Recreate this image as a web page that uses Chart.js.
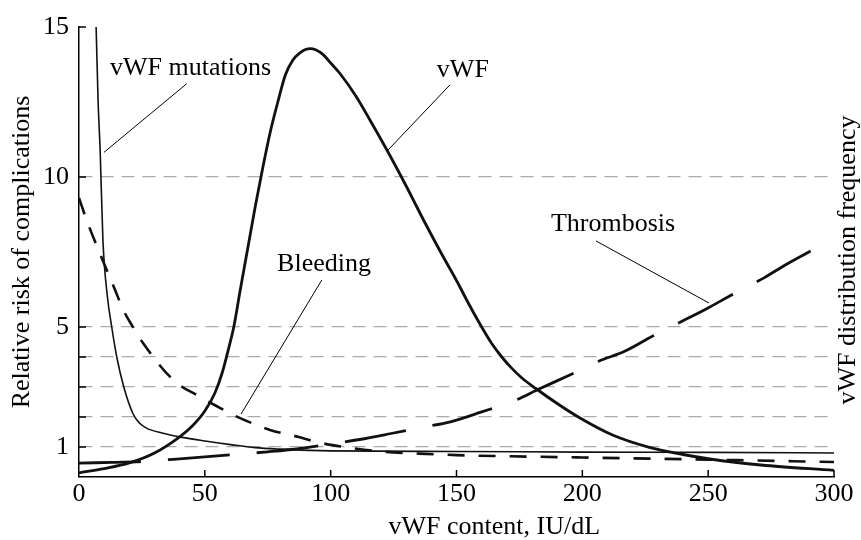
<!DOCTYPE html>
<html>
<head>
<meta charset="utf-8">
<script src="https://cdn.jsdelivr.net/npm/chart.js@4.4.0/dist/chart.umd.min.js"></script>
<style>
body{margin:0;background:#fff}
#wrap{width:861px;height:540px;position:relative}
</style>
</head>
<body>
<div id="wrap"><canvas id="c"></canvas></div>
<script>
// curve readings (x = vWF content IU/dL, y = relative risk)
const mutX = [6.8, 7.6, 8.4, 9.5, 11.3, 13, 15, 17.8, 21.5, 24, 27, 33, 41, 50, 61, 70, 80, 100, 150, 200, 250, 300];
const mutY = [15, 12.5, 10.9, 7.9, 6.0, 5, 4, 3, 2.1, 1.8, 1.62, 1.47, 1.32, 1.2, 1.07, 0.98, 0.93, 0.87, 0.85, 0.83, 0.82, 0.8];

const vwfX = [0, 10, 20, 30, 40, 45, 50, 54, 57, 59.5, 61.5, 64, 67, 70, 73, 76, 79, 82, 85, 88, 90, 92, 94, 97, 100, 103.7, 110, 115.6, 123, 130, 137, 144, 150, 155, 160, 164, 168, 172, 176, 181.5, 190, 198.4, 212, 227, 240, 250.7, 271, 300];
const vwfY = [0.14, 0.28, 0.47, 0.8, 1.34, 1.7, 2.2, 2.8, 3.5, 4.3, 5.0, 6.2, 7.6, 9.0, 10.3, 11.5, 12.5, 13.4, 13.9, 14.15, 14.25, 14.28, 14.24, 14.08, 13.8, 13.45, 12.7, 11.9, 10.8, 9.7, 8.55, 7.45, 6.55, 5.75, 5.0, 4.45, 4.0, 3.62, 3.3, 2.95, 2.45, 2.0, 1.4, 0.98, 0.75, 0.6, 0.4, 0.22];

const bleedX = [0, 3, 8.3, 14.3, 17.6, 20, 25.5, 37.5, 48, 55, 61.3, 70, 75.9, 87, 93, 100, 107, 120, 135, 150, 200, 250, 300];
const bleedY = [9.3, 8.57, 7.45, 6.24, 5.57, 5.2, 4.46, 3.23, 2.68, 2.35, 2.07, 1.75, 1.57, 1.34, 1.2, 1.07, 0.98, 0.85, 0.78, 0.73, 0.65, 0.58, 0.5];

const thrX = [0, 13, 26, 37.5, 50, 63.3, 75, 88, 100, 111.5, 124, 136.5, 147.6, 160, 172.6, 183, 195, 206.5, 216.8, 228, 239.6, 249.2, 260, 272, 281.5, 290, 300];
const thrY = [0.46, 0.49, 0.52, 0.59, 0.67, 0.76, 0.84, 0.95, 1.1, 1.25, 1.45, 1.66, 1.84, 2.17, 2.53, 2.94, 3.4, 3.86, 4.19, 4.7, 5.19, 5.6, 6.1, 6.63, 7.11, 7.5, 7.95];

// axes
const xTickValues = [0, 50, 100, 150, 200, 250, 300];
const yTickValues = [0, 1, 2, 3, 4, 5, 10, 15];
const yLabelValues = [1, 5, 10, 15];
const yGridValues = [1, 2, 3, 4, 5, 10];

// curve labels, in data units
const labelText = ['vWF mutations', 'vWF', 'Bleeding', 'Thrombosis'];
const labelX = [12.3, 142.2, 78.7, 187.5];
const labelY = [13.63, 13.57, 7.1, 8.43];
const leadFromX = [42.8, 147.4, 96.5, 205.4];
const leadFromY = [13.11, 13.07, 6.57, 7.87];
const leadToX = [9.9, 122.8, 64.4, 250.3];
const leadToY = [10.82, 10.9, 2.1, 5.8];

const FONT = '"Liberation Serif", "Times New Roman", serif';
const pts = (xs, ys) => xs.map((x, i) => ({x: x, y: ys[i]}));

const extras = {
  id: 'extras',
  afterDatasetsDraw(chart) {
    const {ctx, scales: {x, y}} = chart;
    ctx.save();
    // inward tick marks
    ctx.strokeStyle = '#000';
    ctx.lineWidth = 1.5;
    yTickValues.forEach(v => {
      if (v === 0) return;
      const py = y.getPixelForValue(v);
      ctx.beginPath(); ctx.moveTo(x.left, py); ctx.lineTo(x.left + 7, py); ctx.stroke();
    });
    xTickValues.forEach(v => {
      if (v === 0) return;
      const px = x.getPixelForValue(v);
      ctx.beginPath(); ctx.moveTo(px, y.bottom); ctx.lineTo(px, y.bottom - 7); ctx.stroke();
    });
    // leader lines + labels
    ctx.lineWidth = 1;
    labelText.forEach((t, i) => {
      ctx.beginPath();
      ctx.moveTo(x.getPixelForValue(leadFromX[i]), y.getPixelForValue(leadFromY[i]));
      ctx.lineTo(x.getPixelForValue(leadToX[i]), y.getPixelForValue(leadToY[i]));
      ctx.stroke();
    });
    ctx.fillStyle = '#000';
    ctx.font = '26px ' + FONT;
    ctx.textBaseline = 'middle';
    ctx.textAlign = 'left';
    labelText.forEach((t, i) => {
      ctx.fillText(t, x.getPixelForValue(labelX[i]), y.getPixelForValue(labelY[i]));
    });
    // axis titles
    ctx.textAlign = 'center';
    const midY = (y.top + y.bottom) / 2;
    ctx.fillText('vWF content, IU/dL', x.getPixelForValue(165), 527);
    ctx.save();
    ctx.translate(22, midY);
    ctx.rotate(-Math.PI / 2);
    ctx.fillText('Relative risk of complications', 0, 0);
    ctx.restore();
    ctx.save();
    ctx.translate(848, midY + 8);
    ctx.rotate(-Math.PI / 2);
    ctx.fillText('vWF distribution frequency', 0, 0);
    ctx.restore();
    ctx.restore();
  }
};

new Chart(document.getElementById('c'), {
  type: 'scatter',
  data: {
    datasets: [
      {label: 'vWF mutations', data: pts(mutX, mutY), showLine: true, borderColor: '#111', borderWidth: 1.6, pointRadius: 0, cubicInterpolationMode: 'monotone'},
      {label: 'vWF', data: pts(vwfX, vwfY), showLine: true, borderColor: '#111', borderWidth: 2.8, pointRadius: 0, cubicInterpolationMode: 'monotone'},
      {label: 'Bleeding', data: pts(bleedX, bleedY), showLine: true, borderColor: '#111', borderWidth: 2.6, borderDash: [17, 14], pointRadius: 0, cubicInterpolationMode: 'monotone'},
      {label: 'Thrombosis', data: pts(thrX, thrY), showLine: true, borderColor: '#111', borderWidth: 2.8, borderDash: [62, 27], pointRadius: 0, cubicInterpolationMode: 'monotone'}
    ]
  },
  options: {
    responsive: true, maintainAspectRatio: false, animation: false,
    layout: {padding: {top: 27, right: 27, left: 0, bottom: 0}},
    plugins: {legend: {display: false}, tooltip: {enabled: false}},
    scales: {
      x: {
        type: 'linear', min: 0, max: 300,
        afterFit: s => { s.height = 63; },
        afterBuildTicks: s => { s.ticks = xTickValues.map(v => ({value: v})); },
        grid: {color: 'transparent', drawTicks: false},
        border: {display: true, color: '#000', width: 1.5},
        ticks: {padding: 2, color: '#000', font: {family: FONT, size: 26}, maxRotation: 0}
      },
      y: {
        type: 'linear', min: 0, max: 15,
        afterFit: s => { s.width = 79; },
        afterBuildTicks: s => { s.ticks = yTickValues.map(v => ({value: v})); },
        grid: {
          drawTicks: false, lineWidth: 1.3,
          color: c => yGridValues.includes(c.tick && c.tick.value) ? '#aaaaaa' : 'transparent'
        },
        border: {display: true, color: '#000', width: 1.5, dash: [13, 8]},
        ticks: {
          padding: 10, color: '#000', font: {family: FONT, size: 26},
          callback: v => yLabelValues.includes(v) ? String(v) : ''
        }
      }
    }
  },
  plugins: [extras]
});
</script>
</body>
</html>
